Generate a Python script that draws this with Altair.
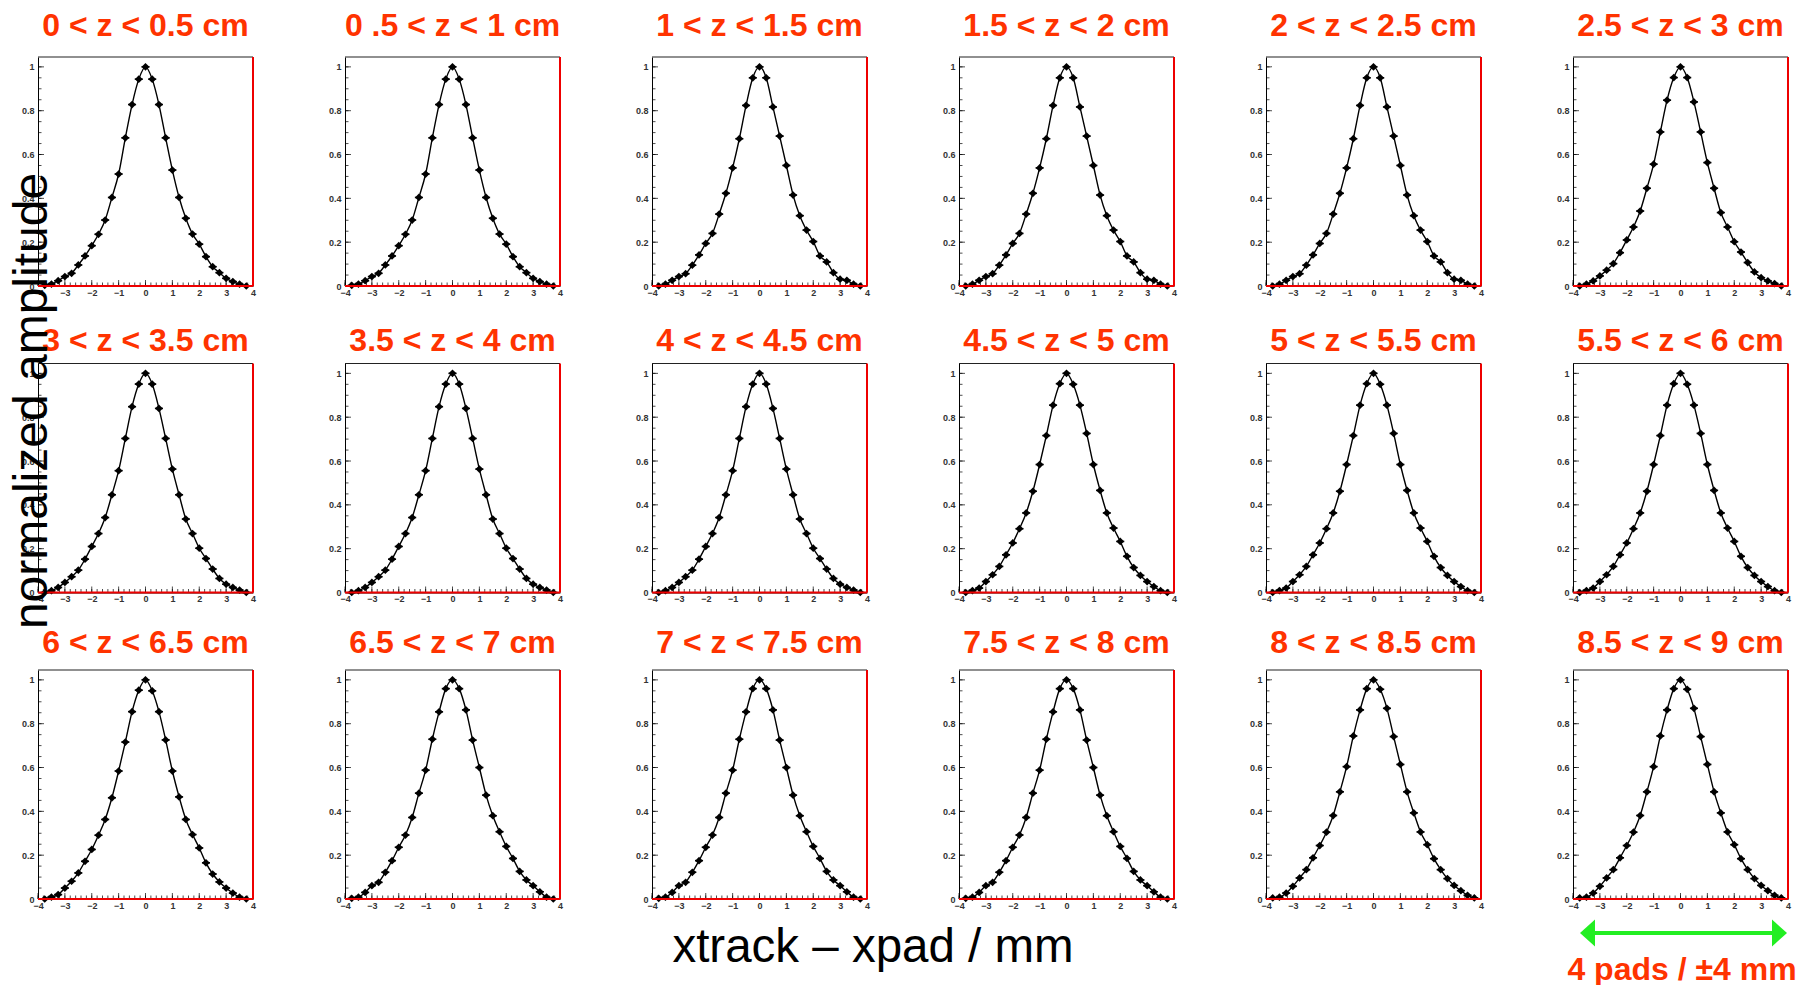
import altair as alt
import pandas as pd
import numpy as np

FONT = "Liberation Sans"
RED = "#FF3300"
GREEN = "#22EE22"

TITLES = ["0 < z < 0.5 cm", "0 .5 < z < 1 cm", "1 < z < 1.5 cm", "1.5 < z < 2 cm",
          "2 < z < 2.5 cm", "2.5 < z < 3 cm", "3 < z < 3.5 cm", "3.5 < z < 4 cm",
          "4 < z < 4.5 cm", "4.5 < z < 5 cm", "5 < z < 5.5 cm", "5.5 < z < 6 cm",
          "6 < z < 6.5 cm", "6.5 < z < 7 cm", "7 < z < 7.5 cm", "7.5 < z < 8 cm",
          "8 < z < 8.5 cm", "8.5 < z < 9 cm"]

# bin centres (mm)
XB = [-3.75, -3.5, -3.25, -3.0, -2.75, -2.5, -2.25, -2.0, -1.75, -1.5, -1.25, -1.0,
      -0.75, -0.5, -0.25, 0.0, 0.25, 0.5, 0.75, 1.0, 1.25, 1.5, 1.75, 2.0, 2.25,
      2.5, 2.75, 3.0, 3.25, 3.5, 3.75]
HALF_BIN = 0.15

A0 = [0.003, 0.009, 0.024, 0.043, 0.058, 0.096, 0.137, 0.184, 0.236, 0.301, 0.404, 0.511, 0.676, 0.828, 0.944,
      1.0, 0.944, 0.828, 0.676, 0.529, 0.404, 0.309, 0.237, 0.191, 0.134, 0.088, 0.061, 0.035, 0.020, 0.008, 0.0]
A3 = [0.0, 0.008, 0.026, 0.043, 0.056, 0.095, 0.142, 0.194, 0.240, 0.328, 0.423, 0.539, 0.672, 0.824, 0.950,
      1.0, 0.950, 0.817, 0.684, 0.550, 0.415, 0.321, 0.255, 0.203, 0.137, 0.110, 0.061, 0.031, 0.026, 0.008, 0.0]
A7 = [0.0, 0.008, 0.023, 0.046, 0.072, 0.102, 0.152, 0.210, 0.269, 0.342, 0.446, 0.556, 0.703, 0.848, 0.951,
      1.0, 0.951, 0.840, 0.703, 0.563, 0.446, 0.335, 0.269, 0.202, 0.155, 0.107, 0.064, 0.038, 0.023, 0.011, 0.0]
A11 = [0.0, 0.009, 0.020, 0.050, 0.081, 0.119, 0.172, 0.226, 0.291, 0.363, 0.462, 0.584, 0.716, 0.855, 0.953,
       1.0, 0.950, 0.855, 0.726, 0.584, 0.466, 0.363, 0.294, 0.233, 0.165, 0.114, 0.078, 0.050, 0.027, 0.008, 0.0]
A14 = [0.003, 0.008, 0.030, 0.061, 0.076, 0.122, 0.175, 0.236, 0.292, 0.372, 0.483, 0.588, 0.729, 0.854, 0.960,
       1.0, 0.960, 0.863, 0.725, 0.600, 0.474, 0.380, 0.307, 0.240, 0.185, 0.126, 0.087, 0.061, 0.033, 0.008, 0.0]
A17 = [0.005, 0.008, 0.027, 0.058, 0.096, 0.134, 0.188, 0.244, 0.305, 0.381, 0.489, 0.604, 0.744, 0.863, 0.960,
       1.0, 0.957, 0.870, 0.741, 0.614, 0.489, 0.393, 0.306, 0.248, 0.184, 0.134, 0.093, 0.062, 0.038, 0.017, 0.005]

A1 = A0
A2 = A3
A4 = A3
A5 = A7
A6 = A7
A8 = A7
A9 = A11
A10 = A11
A12 = A11
A13 = A14
A15 = A14
A16 = A17
AMPS = [A0, A1, A2, A3, A4, A5, A6, A7, A8, A9, A10, A11, A12, A13, A14, A15, A16, A17]

X_LABELS = [-4, -3, -2, -1, 0, 1, 2, 3, 4]
Y_LABELS = [0, 0.2, 0.4, 0.6, 0.8, 1]
X_MINOR = [round(v, 2) for v in np.arange(-4, 4.001, 0.2)]
Y_MINOR = [round(v, 2) for v in np.arange(0, 1.0001, 0.05)]

Y_LABEL = "normalized amplitude"
X_LABEL = "xtrack \u2013 xpad / mm"
NOTE = "4 pads / \u00b14 mm"

W, H = 215, 229
TITLE_Y = [-21, -13, -17]   # baseline offset of the panel titles, per row
XS = alt.Scale(domain=[-4, 4], nice=False, zero=False)
YS = alt.Scale(domain=[0, 1.045], nice=False, zero=False)
XAX = alt.Axis(values=X_LABELS, title=None, ticks=False, grid=False, domainColor="black",
               domainWidth=1, labelFont=FONT, labelFontSize=9, labelFontWeight="bold",
               labelColor="#333333", labelPadding=2, labelFlush=False, labelOverlap=False,
               format="d")
YAX = alt.Axis(values=Y_LABELS, title=None, ticks=False, grid=False, domainColor="black",
               domainWidth=1, labelFont=FONT, labelFontSize=9, labelFontWeight="bold",
               labelColor="#333333", labelPadding=4, labelOverlap=False, format="~g")


def ex(field):
    return alt.X(field, type="quantitative", scale=XS, axis=XAX)


def ey(field):
    return alt.Y(field, type="quantitative", scale=YS, axis=YAX)


def panel(i):
    df = pd.DataFrame({"x": XB, "y": AMPS[i]})
    df["x0"] = df["x"] - HALF_BIN
    df["x1"] = df["x"] + HALF_BIN
    base = alt.Chart(df)
    line = base.mark_line(color="black", strokeWidth=1.4, interpolate="monotone").encode(
        x=ex("x"), y=ey("y"))
    bars = base.mark_rule(color="black", strokeWidth=1.6).encode(
        x=ex("x0"), x2="x1", y=ey("y"))
    pts = base.mark_point(shape="diamond", filled=True, color="black", size=60, opacity=1).encode(
        x=ex("x"), y=ey("y"))

    xmaj = alt.Chart(pd.DataFrame({"t": X_LABELS})).mark_tick(
        orient="vertical", size=6, thickness=1, color="black", yOffset=-3).encode(
        x=ex("t"), y=alt.Y(datum=0, type="quantitative", scale=YS, axis=YAX))
    xmin = alt.Chart(pd.DataFrame({"t": X_MINOR})).mark_tick(
        orient="vertical", size=3.5, thickness=1, color="black", yOffset=-1.75).encode(
        x=ex("t"), y=alt.Y(datum=0, type="quantitative", scale=YS, axis=YAX))
    ymaj = alt.Chart(pd.DataFrame({"t": Y_LABELS})).mark_tick(
        orient="horizontal", size=6, thickness=1, color="black", xOffset=3).encode(
        y=ey("t"), x=alt.X(datum=-4, type="quantitative", scale=XS, axis=XAX))
    ymin = alt.Chart(pd.DataFrame({"t": Y_MINOR})).mark_tick(
        orient="horizontal", size=3.5, thickness=1, color="black", xOffset=1.75).encode(
        y=ey("t"), x=alt.X(datum=-4, type="quantitative", scale=XS, axis=XAX))

    top = alt.Chart(pd.DataFrame({"a": [0]})).mark_rule(color="#222222", strokeWidth=1.2).encode(
        y=alt.value(0))
    right = alt.Chart(pd.DataFrame({"a": [0]})).mark_rule(color="#EE0000", strokeWidth=2).encode(
        x=alt.value(W))
    bottom = alt.Chart(pd.DataFrame({"a": [0]})).mark_rule(color="#EE0000", strokeWidth=2).encode(
        y=alt.Y(datum=0, type="quantitative", scale=YS, axis=YAX))

    title = alt.Chart(pd.DataFrame({"t": [TITLES[i]]})).mark_text(
        font=FONT, fontSize=32, fontWeight="bold", color=RED, align="center",
        baseline="alphabetic").encode(text="t:N", x=alt.value(W / 2), y=alt.value(TITLE_Y[i // 6]))

    layers = [line, bars, pts, xmin, xmaj, ymin, ymaj, bottom, top, right, title]

    if i == 0:
        anchor = alt.Chart(pd.DataFrame({"a": [0]})).mark_rect(opacity=0).encode(
            x=alt.value(-30), x2=alt.value(-29), y=alt.value(-49), y2=alt.value(-48))
        layers.append(anchor)
    if i == 6:
        ylab = alt.Chart(pd.DataFrame({"t": [Y_LABEL]})).mark_text(
            font=FONT, fontSize=48, color="black", angle=270, align="center",
            baseline="alphabetic").encode(text="t:N", x=alt.value(9), y=alt.value(37.5))
        layers.append(ylab)
    if i == 14:
        xlab = alt.Chart(pd.DataFrame({"t": [X_LABEL]})).mark_text(
            font=FONT, fontSize=47.5, color="black", align="center",
            baseline="alphabetic").encode(text="t:N", x=alt.value(221), y=alt.value(292))
        layers.append(xlab)
    if i == 17:
        shaft = alt.Chart(pd.DataFrame({"a": [0]})).mark_rule(color=GREEN, strokeWidth=4).encode(
            x=alt.value(16), x2=alt.value(205), y=alt.value(263))
        headl = alt.Chart(pd.DataFrame({"a": [0]})).mark_point(
            shape="M -0.5 0 L 0.5 -0.9 L 0.5 0.9 Z", filled=True, color=GREEN, size=900,
            opacity=1).encode(x=alt.value(14.5), y=alt.value(263))
        headr = alt.Chart(pd.DataFrame({"a": [0]})).mark_point(
            shape="M 0.5 0 L -0.5 -0.9 L -0.5 0.9 Z", filled=True, color=GREEN, size=900,
            opacity=1).encode(x=alt.value(206.5), y=alt.value(263))
        note = alt.Chart(pd.DataFrame({"t": [NOTE]})).mark_text(
            font=FONT, fontSize=32, fontWeight="bold", color=RED, align="center",
            baseline="alphabetic").encode(text="t:N", x=alt.value(109), y=alt.value(310))
        layers += [shaft, headl, headr, note]

    return alt.layer(*layers).properties(width=W, height=H)


panels = [panel(i) for i in range(18)]
chart = alt.ConcatChart(concat=panels, columns=6, spacing={"row": 77.5, "column": 92},
                        bounds="flush").properties(padding=0, background="white").configure_view(
    stroke=None)

chart.save("out.html", embed_options={"renderer": "svg", "actions": False})
